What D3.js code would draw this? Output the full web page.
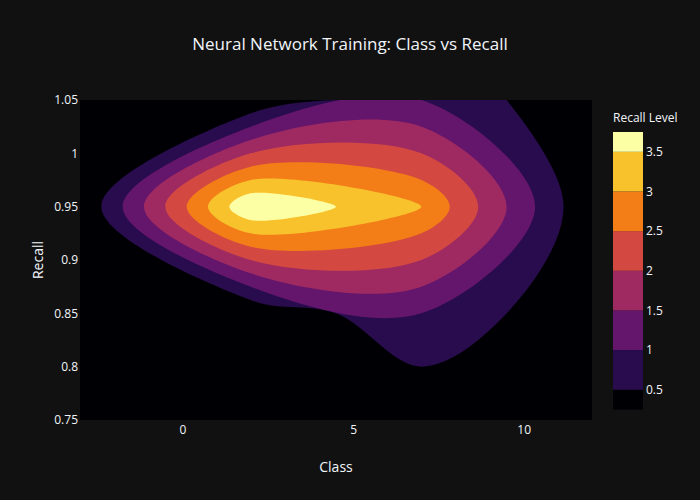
<!DOCTYPE html>
<html><head><meta charset="utf-8">
<script src="https://cdn.jsdelivr.net/npm/d3@7"></script>
<style>
html,body{margin:0;padding:0;background:#111111;}
svg{display:block;}
text{font-family:"Open Sans", verdana, arial, sans-serif;}
</style>
</head><body>
<svg id="chart" width="700" height="500"></svg>
<script>
// ---- data (2D histogram counts) ----
const classBins = [-3, 2, 7, 12];
const recallBins = [0.75, 0.85, 0.95, 1.05];
const countsRecall075 = [0, 0, 0, 0];
const countsRecall085 = [0, 0, 1, 0];
const countsRecall095 = [0, 4, 3, 0];
const countsRecall105 = [0, 0, 1, 0];
const counts = [countsRecall075, countsRecall085, countsRecall095, countsRecall105];
const contourLevels = [0.5, 1, 1.5, 2, 2.5, 3, 3.5];
const colorbarRange = [0.25, 3.75];
const xTickValues = [0, 5, 10];
const yTickValues = [0.75, 0.8, 0.85, 0.9, 0.95, 1, 1.05];
const colorbarTickValues = [0.5, 1, 1.5, 2, 2.5, 3, 3.5];
const titleText = "Neural Network Training: Class vs Recall";
const xTitle = "Class", yTitle = "Recall", cbTitle = "Recall Level";

// ---- styles ----
const TXT = "#f2f5fa";
const infernoStops = ['#000004','#1b0c41','#4a0c6b','#781c6d','#a52c60','#cf4446','#ed6925','#fb9b06','#f7d13d','#fcffa4'];
const inferno = d3.scaleLinear().domain(infernoStops.map((_, i) => i / 9)).range(infernoStops).interpolate(d3.interpolateRgb);
const nBands = contourLevels.length + 1;
const bandColor = k => inferno(k / (nBands - 1));

const L = 80, T = 100, W = 512, H = 320;
const svg = d3.select("#chart");
svg.append("rect").attr("width", 700).attr("height", 500).attr("fill", "#111111");

const x = d3.scaleLinear().domain([classBins[0], classBins[classBins.length - 1]]).range([L, L + W]);
const y = d3.scaleLinear().domain([recallBins[0], recallBins[recallBins.length - 1]]).range([T + H, T]);

const nx = classBins.length, ny = recallBins.length;
const ix2data = d3.scaleLinear().domain(d3.range(nx)).range(classBins);
const iy2data = d3.scaleLinear().domain(d3.range(ny)).range(recallBins);
const toPx = p => [x(ix2data(p[0])), y(iy2data(p[1]))];
const z = (i, j) => counts[j][i];

function edgeId(a, b) {
  return Math.min(a[0], b[0]) + "," + Math.min(a[1], b[1]) + (a[0] === b[0] ? "v" : "h");
}

function tracePaths(lev) {
  const above = (p) => z(p[0], p[1]) > lev;
  const next = new Map(), isEnd = new Set(), edges = new Map();
  for (let j = 0; j < ny - 1; j++) for (let i = 0; i < nx - 1; i++) {
    const c = [[i, j], [i + 1, j], [i + 1, j + 1], [i, j + 1]];
    const ab = c.map(above);
    const es = [];
    for (let k = 0; k < 4; k++) {
      const a = c[k], b = c[(k + 1) % 4];
      const id = edgeId(a, b);
      edges.set(id, [a, b]);
      es.push({ id, a: ab[k], b: ab[(k + 1) % 4] });
    }
    const starts = [], ends = [];
    es.forEach((e, k) => { if (e.a && !e.b) starts.push(k); else if (!e.a && e.b) ends.push(k); });
    if (!starts.length) continue;
    if (starts.length === 1) {
      next.set(es[starts[0]].id, es[ends[0]].id); isEnd.add(es[ends[0]].id);
    } else {
      const center = (z(i, j) + z(i + 1, j) + z(i + 1, j + 1) + z(i, j + 1)) / 4 > lev;
      starts.forEach(k => {
        const ke = center ? (k + 1) % 4 : (k + 3) % 4;
        next.set(es[k].id, es[ke].id); isEnd.add(es[ke].id);
      });
    }
  }
  const cross = id => {
    const [a, b] = edges.get(id);
    const za = z(a[0], a[1]), zb = z(b[0], b[1]);
    const t = (lev - za) / (zb - za);
    return [a[0] + t * (b[0] - a[0]), a[1] + t * (b[1] - a[1])];
  };
  const used = new Set(), open = [], closed = [];
  for (const s of next.keys()) if (!isEnd.has(s)) {
    const ids = [s]; used.add(s); let cur = s;
    while (next.has(cur)) { cur = next.get(cur); ids.push(cur); used.add(cur); }
    open.push(ids.map(cross));
  }
  for (const s of next.keys()) if (!used.has(s)) {
    const ids = [s]; used.add(s); let cur = next.get(s);
    while (cur !== s) { ids.push(cur); used.add(cur); cur = next.get(cur); }
    closed.push(ids.map(cross));
  }
  return { open, closed };
}

function dedupe(pts, closedPath) {
  const out = [];
  pts.forEach(p => {
    const q = out[out.length - 1];
    if (!q || Math.hypot(p[0] - q[0], p[1] - q[1]) > 0.01) out.push(p);
  });
  if (closedPath && out.length > 1) {
    const a = out[0], b = out[out.length - 1];
    if (Math.hypot(a[0] - b[0], a[1] - b[1]) <= 0.01) out.pop();
  }
  return out;
}

// plotly-style centripetal Catmull-Rom smoothing
function makeTangent(pp, tp, np, s) {
  const d1x = pp[0] - tp[0], d1y = pp[1] - tp[1];
  const d2x = np[0] - tp[0], d2y = np[1] - tp[1];
  const d1a = Math.pow(d1x * d1x + d1y * d1y, 0.25);
  const d2a = Math.pow(d2x * d2x + d2y * d2y, 0.25);
  const numx = (d2a * d2a * d1x - d1a * d1a * d2x) * s;
  const numy = (d2a * d2a * d1y - d1a * d1a * d2y) * s;
  const den1 = 3 * d2a * (d1a + d2a), den2 = 3 * d1a * (d1a + d2a);
  return [
    [tp[0] + (den1 && numx / den1), tp[1] + (den1 && numy / den1)],
    [tp[0] - (den2 && numx / den2), tp[1] - (den2 && numy / den2)]
  ];
}
const f = p => p[0].toFixed(2) + "," + p[1].toFixed(2);
function smoothOpenTail(pts) {
  if (pts.length < 3) return pts.slice(1).map(p => "L" + f(p)).join("");
  const tg = [];
  for (let i = 1; i < pts.length - 1; i++) tg.push(makeTangent(pts[i - 1], pts[i], pts[i + 1], 1));
  let d = "Q" + f(tg[0][0]) + " " + f(pts[1]);
  for (let i = 2; i < pts.length - 1; i++) d += "C" + f(tg[i - 2][1]) + " " + f(tg[i - 1][0]) + " " + f(pts[i]);
  d += "Q" + f(tg[pts.length - 3][1]) + " " + f(pts[pts.length - 1]);
  return d;
}
function smoothClosed(pts) {
  if (pts.length < 3) return "M" + pts.map(f).join("L") + "Z";
  const n = pts.length, last = n - 1;
  const tg = [makeTangent(pts[last], pts[0], pts[1], 1)];
  for (let i = 1; i < last; i++) tg.push(makeTangent(pts[i - 1], pts[i], pts[i + 1], 1));
  tg.push(makeTangent(pts[last - 1], pts[last], pts[0], 1));
  let d = "M" + f(pts[0]);
  for (let i = 1; i <= last; i++) d += "C" + f(tg[i - 1][1]) + " " + f(tg[i][0]) + " " + f(pts[i]);
  d += "C" + f(tg[last][1]) + " " + f(tg[0][0]) + " " + f(pts[0]) + "Z";
  return d;
}

// perimeter (counter-clockwise in grid index space)
const GW = nx - 1, GH = ny - 1, PER = 2 * GW + 2 * GH, EPS = 1e-9;
function sParam(p) {
  if (Math.abs(p[1]) < EPS) return p[0];
  if (Math.abs(p[0] - GW) < EPS) return GW + p[1];
  if (Math.abs(p[1] - GH) < EPS) return GW + GH + (GW - p[0]);
  return 2 * GW + GH + (GH - p[1]);
}
const perimCorners = [[0, [0, 0]], [GW, [GW, 0]], [GW + GH, [GW, GH]], [2 * GW + GH, [0, GH]]];

function fillPath(lev) {
  const { open, closed } = tracePaths(lev);
  const paths = open.map(pts => {
    const dp = dedupe(pts, false);
    return { pix: dp.map(toPx), sStart: sParam(dp[0]), sEnd: sParam(dp[dp.length - 1]) };
  });
  let d = "";
  const done = new Set();
  paths.forEach((p0, k) => {
    if (done.has(k)) return;
    let cur = k;
    d += "M" + f(p0.pix[0]);
    for (let guard = 0; guard < 50; guard++) {
      done.add(cur);
      d += smoothOpenTail(paths[cur].pix);
      const se = paths[cur].sEnd;
      let best = k, bestD = ((paths[k].sStart - se) % PER + PER) % PER;
      paths.forEach((p, m) => {
        if (done.has(m)) return;
        const dd = ((p.sStart - se) % PER + PER) % PER;
        if (dd < bestD) { bestD = dd; best = m; }
      });
      perimCorners
        .map(([s, pt]) => [((s - se) % PER + PER) % PER, pt])
        .filter(([dd]) => dd > EPS && dd < bestD - EPS)
        .sort((a, b) => a[0] - b[0])
        .forEach(([, pt]) => { d += "L" + f(toPx(pt)); });
      if (best === k) { d += "Z"; break; }
      d += "L" + f(paths[best].pix[0]);
      cur = best;
    }
  });
  if (!paths.length) {
    const anyAbove = [[0,0],[GW,0],[GW,GH],[0,GH]].some(p => z(p[0], p[1]) > lev);
    if (anyAbove) d += "M" + [[0,0],[GW,0],[GW,GH],[0,GH]].map(p => f(toPx(p))).join("L") + "Z";
  }
  closed.forEach(pts => {
    const dp = dedupe(pts, true);
    d += smoothClosed(dp.map(toPx));
  });
  return d;
}

// ---- plot area ----
svg.append("clipPath").attr("id", "plotclip").append("rect")
  .attr("x", L).attr("y", T).attr("width", W).attr("height", H);
const plot = svg.append("g").attr("clip-path", "url(#plotclip)");
plot.append("rect").attr("x", L).attr("y", T).attr("width", W).attr("height", H).attr("fill", bandColor(0));
plot.selectAll("path.band").data(contourLevels).join("path")
  .attr("class", "band")
  .attr("d", lev => fillPath(lev))
  .attr("fill", (lev, k) => bandColor(k + 1))
  .attr("stroke", "none");

// ---- axes ----
const xAxis = svg.append("g").attr("transform", `translate(0,${T + H})`)
  .call(d3.axisBottom(x).tickValues(xTickValues).tickSize(0).tickPadding(5).tickFormat(d3.format("")));
const yAxis = svg.append("g").attr("transform", `translate(${L},0)`)
  .call(d3.axisLeft(y).tickValues(yTickValues).tickSize(0).tickPadding(2).tickFormat(d => String(d)));
[xAxis, yAxis].forEach(g => {
  g.select(".domain").remove();
  g.selectAll("text").attr("fill", TXT).attr("font-size", 12)
    .attr("font-family", '"Open Sans", verdana, arial, sans-serif');
});

svg.append("text").attr("x", L + W / 2).attr("y", 472).attr("text-anchor", "middle")
  .attr("fill", TXT).attr("font-size", 14).text(xTitle);
svg.append("text").attr("transform", `translate(42.5,${T + H / 2}) rotate(-90)`).attr("text-anchor", "middle")
  .attr("fill", TXT).attr("font-size", 14).text(yTitle);
svg.append("text").attr("x", 350).attr("y", 50).attr("text-anchor", "middle")
  .attr("fill", TXT).attr("font-size", 17).text(titleText);

// ---- colorbar ----
const cb = d3.scaleLinear().domain(colorbarRange).range([409.5, 132]);
const cbX = 613, cbW = 30;
const bandEdges = [colorbarRange[0], ...contourLevels, colorbarRange[1]];
svg.append("g").selectAll("rect").data(d3.range(nBands)).join("rect")
  .attr("x", cbX).attr("width", cbW)
  .attr("y", k => cb(bandEdges[k + 1]))
  .attr("height", k => cb(bandEdges[k]) - cb(bandEdges[k + 1]))
  .attr("fill", k => bandColor(k));
svg.append("g").selectAll("text").data(colorbarTickValues).join("text")
  .attr("x", cbX + cbW + 3).attr("y", d => cb(d)).attr("dy", "0.35em")
  .attr("fill", TXT).attr("font-size", 12).text(d => String(d));
svg.append("text").attr("x", cbX).attr("y", 121.5).attr("fill", TXT).attr("font-size", 12).text(cbTitle);
</script>
</body></html>
